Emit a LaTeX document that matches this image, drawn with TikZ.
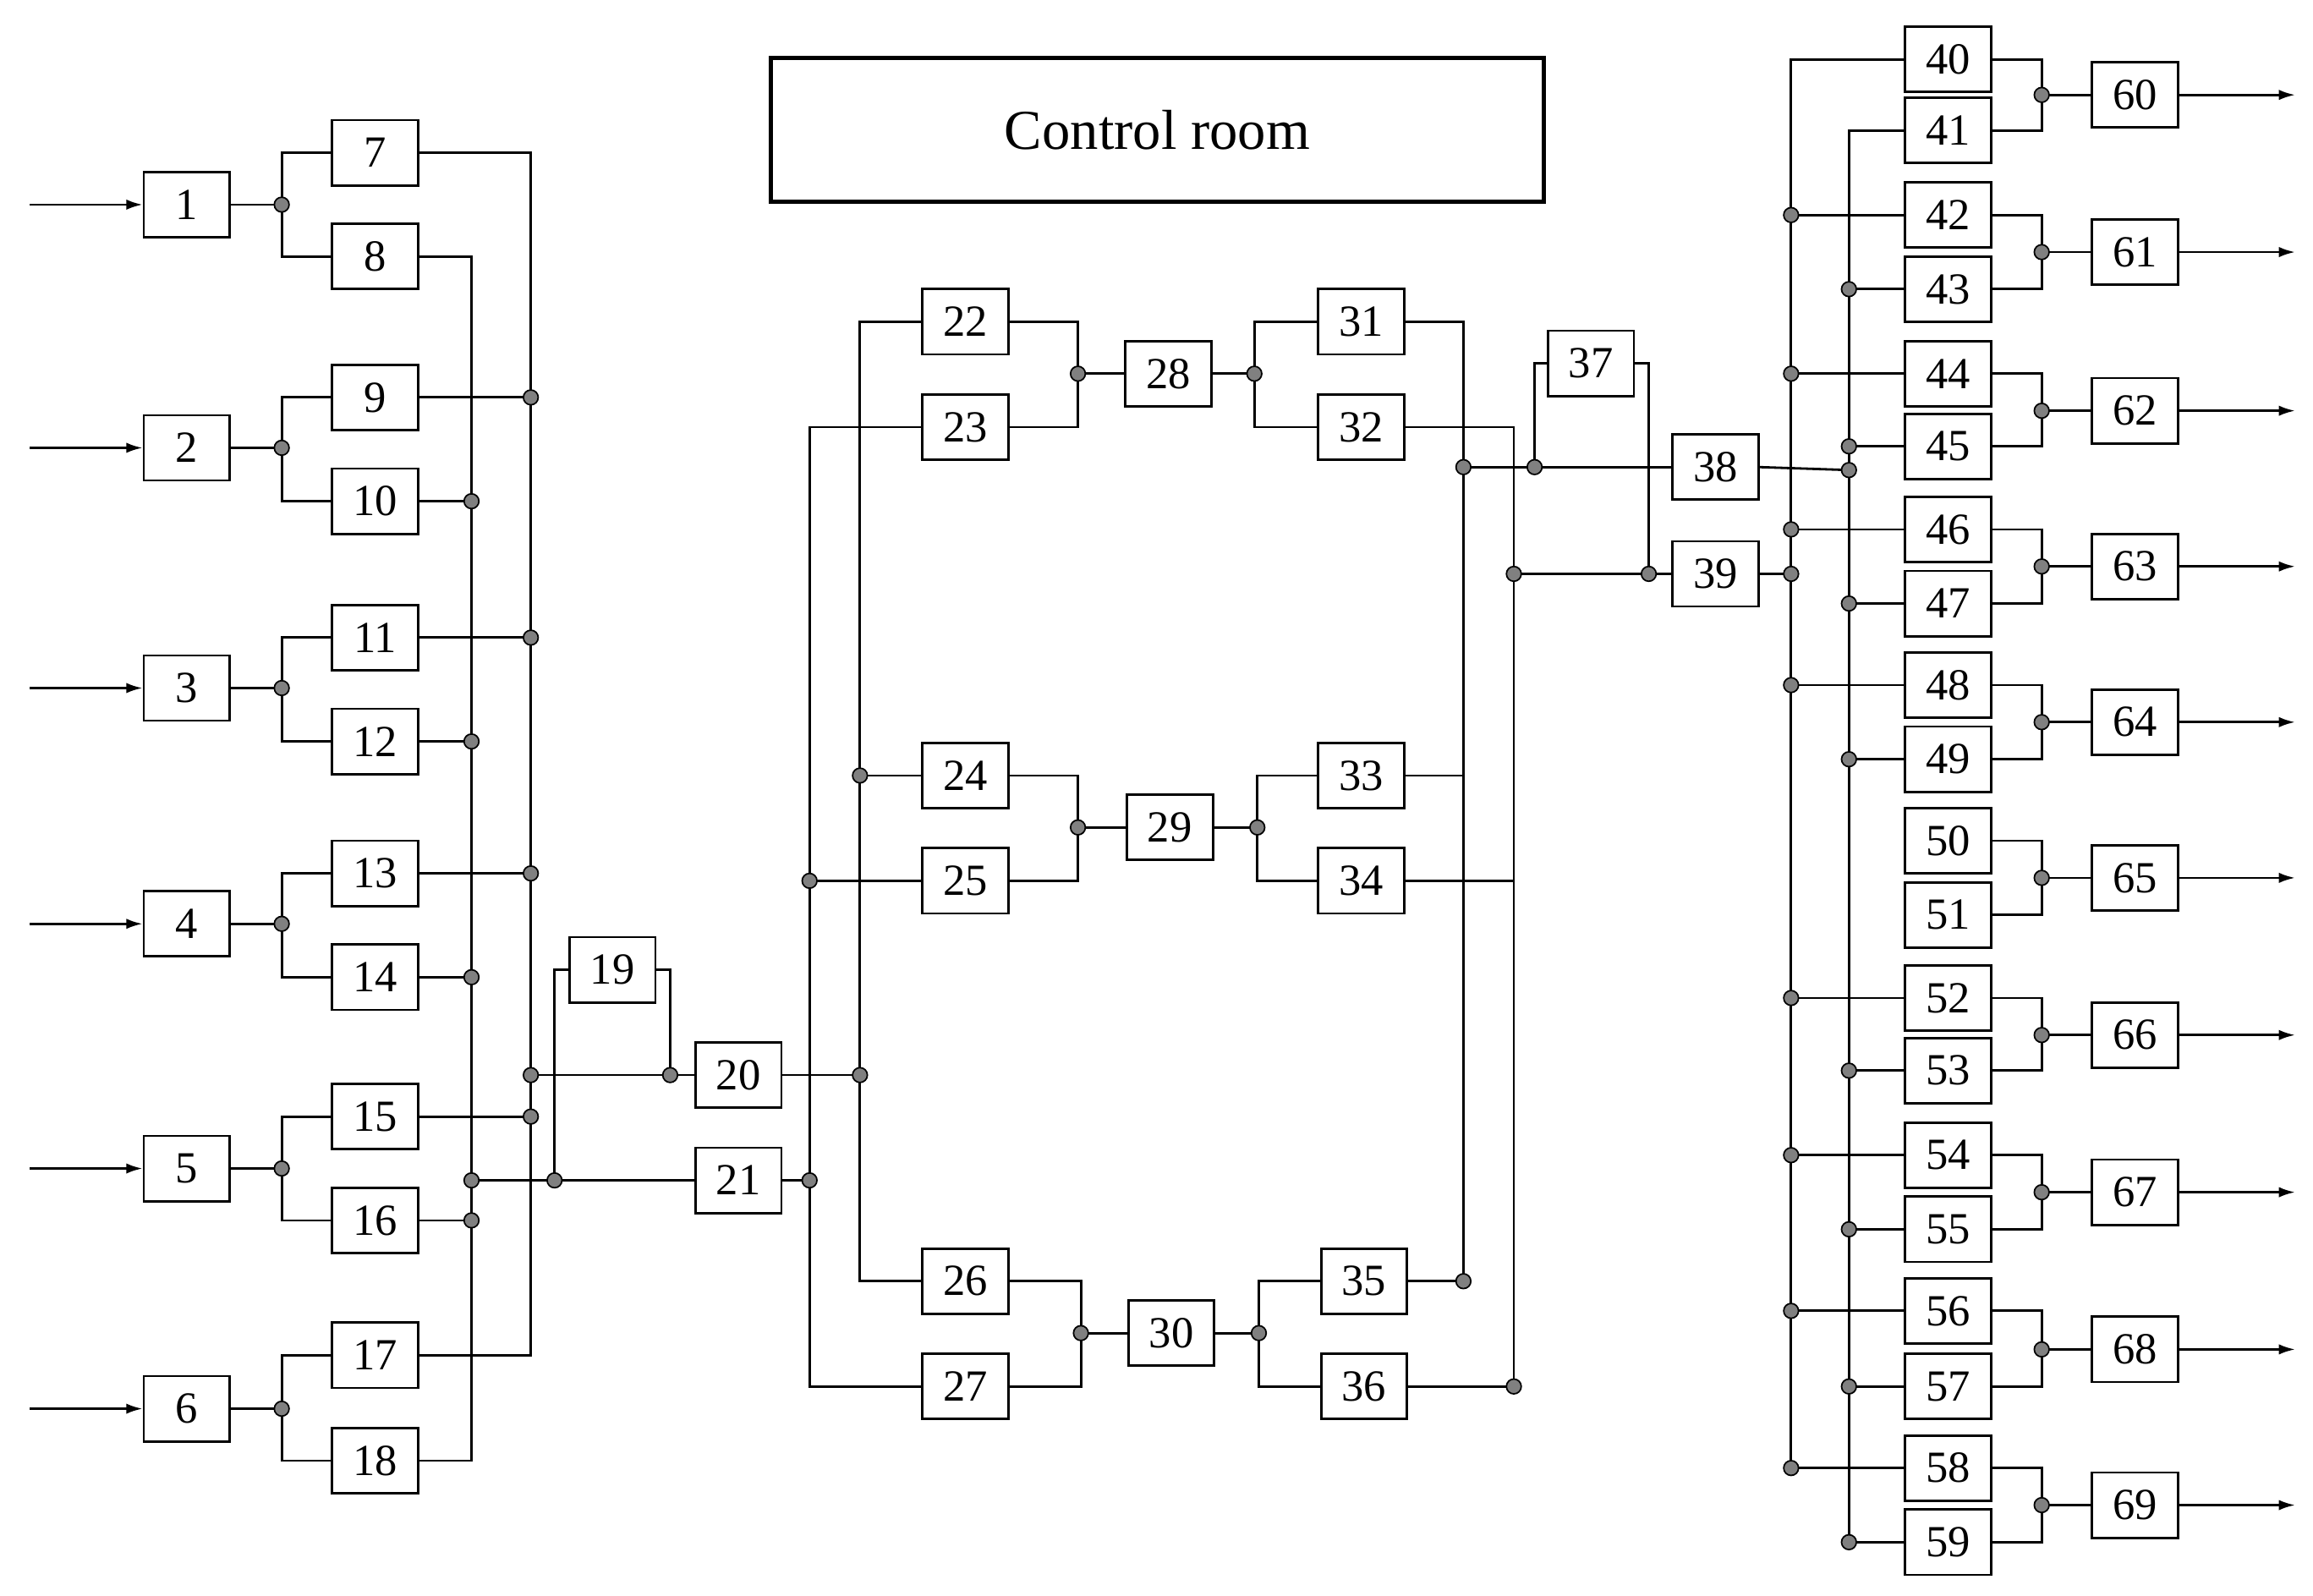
\documentclass[tikz,border=0pt]{standalone}
\usepackage{fontspec}
\setmainfont{Liberation Serif}
\usetikzlibrary{arrows.meta}
\begin{document}
\begin{tikzpicture}[x=1pt,y=-1pt,
  box/.style={draw,line width=1.6pt,minimum width=58pt,minimum height=44pt,inner sep=0pt,font=\fontsize{30}{30}\selectfont},
  dot/.style={circle,draw,fill=gray,line width=1pt,minimum size=10pt,inner sep=0pt},
  ln/.style={line width=1.6pt},
  arr/.style={line width=1.6pt,-{Latex[length=11pt,width=7pt]}}]
\useasboundingbox (0,0) rectangle (1560,1076);
% control room
\node[draw,line width=2.8pt,minimum width=521pt,minimum height=97pt,font=\fontsize{38}{38}\selectfont] (cr) at (780.5,87.5) {Control room};
% left input groups
\foreach \i/\y/\u/\ua/\l/\la in {1/138/7/103/8/173,2/302/9/268/10/338,3/464/11/430/12/500,4/623/13/589/14/659,5/788/15/753/16/823,6/950/17/914/18/985}{
  \node[box] (b\i) at (126,\y) {\i};
  \coordinate (in\i) at (20,\y);
  \coordinate (s\i) at (190,\y);
  \node[box] (b\u) at (253,\ua) {\u};
  \node[box] (b\l) at (253,\la) {\l};
  \draw[arr] (in\i) -- (b\i.west);
  \draw[ln] (b\i.east) -- (s\i);
  \draw[ln] (b\u.west) -| (s\i) |- (b\l.west);
}
% buses A (358) and B (318)
\coordinate (A17) at (358,914);
\coordinate (B18) at (318,985);
\draw[ln] (b7.east) -| (A17) -- (b17.east);
\draw[ln] (b8.east) -| (B18) -- (b18.east);
\foreach \k/\y in {9/268,11/430,13/589,15/753}{\coordinate (A\k) at (358,\y); \draw[ln] (b\k.east) -- (A\k);}
\foreach \k/\y in {10/338,12/500,14/659,16/823}{\coordinate (B\k) at (318,\y); \draw[ln] (b\k.east) -- (B\k);}
\coordinate (A20) at (358,725);
\coordinate (B21) at (318,796);
% 19,20,21
\node[box] (b19) at (413,654) {19};
\node[box] (b20) at (498,725) {20};
\node[box] (b21) at (498,796) {21};
\coordinate (j20) at (452,725);
\coordinate (j21) at (374,796);
\draw[ln] (A20) -- (b20.west);
\draw[ln] (B21) -- (b21.west);
\draw[ln] (b19.west) -| (j21);
\draw[ln] (b19.east) -| (j20);
% middle
\coordinate (C20) at (580,725);
\coordinate (D21) at (546,796);
\draw[ln] (b20.east) -- (C20);
\draw[ln] (b21.east) -- (D21);
\foreach \i/\y in {22/217,23/288,24/523,25/594,26/864,27/935}{\node[box] (b\i) at (651,\y) {\i};}
\draw[ln] (b22.west) -| (580,864) -- (b26.west);
\draw[ln] (b23.west) -| (546,935) -- (b27.west);
\coordinate (C24) at (580,523); \draw[ln] (C24) -- (b24.west);
\coordinate (D25) at (546,594); \draw[ln] (D25) -- (b25.west);
\foreach \m/\a/\b/\y/\p/\q/\mx/\bx/\nx/\rx in {28/22/23/252/31/32/727/788/846/918,29/24/25/558/33/34/727/789/848/920,30/26/27/899/35/36/729/790/849/920}{
  \coordinate (m\m) at (\mx,\y);
  \coordinate (n\m) at (\nx,\y);
  \node[box] (b\m) at (\bx,\y) {\m};
  \draw[ln] (b\a.east) -| (m\m) |- (b\b.east);
  \draw[ln] (m\m) -- (b\m.west);
  \draw[ln] (b\m.east) -- (n\m);
}
\foreach \i/\y in {31/217,32/288,33/523,34/594}{\node[box] (b\i) at (918,\y) {\i};}
\node[box] (b35) at (920,864) {35};
\node[box] (b36) at (920,935) {36};
\draw[ln] (b31.west) -| (n28) |- (b32.west);
\draw[ln] (b33.west) -| (n29) |- (b34.west);
\draw[ln] (b35.west) -| (n30) |- (b36.west);
% buses E (987) and F (1021)
\coordinate (E35) at (987,864);
\coordinate (F36) at (1021,935);
\draw[ln] (b31.east) -| (E35) -- (b35.east);
\draw[ln] (b32.east) -| (F36) -- (b36.east);
\draw[ln] (b33.east) -- (987,523);
\draw[ln] (b34.east) -- (1021,594);
\coordinate (E38) at (987,315);
\coordinate (F39) at (1021,387);
% 37,38,39
\node[box] (b37) at (1073,245) {37};
\node[box] (b38) at (1157,315) {38};
\node[box] (b39) at (1157,387) {39};
\coordinate (j38) at (1035,315);
\coordinate (j39) at (1112,387);
\draw[ln] (E38) -- (b38.west);
\draw[ln] (F39) -- (b39.west);
\draw[ln] (b37.west) -| (j38);
\draw[ln] (b37.east) -| (j39);
% right buses G (1208), H (1247)
\coordinate (G39) at (1208,387);
\coordinate (H38) at (1247,317);
\draw[ln] (b39.east) -- (G39);
\draw[ln] (b38.east) -- (H38);
\foreach \i/\y in {40/40,41/88,42/145,43/195,44/252,45/301,46/357,47/407,48/462,49/512,50/567,51/617,52/673,53/722,54/779,55/829,56/884,57/935,58/990,59/1040}{\node[box] (b\i) at (1314,\y) {\i};}
\draw[ln] (b40.west) -| (1208,990) -- (b58.west);
\draw[ln] (b41.west) -| (1247,1040) -- (b59.west);
\foreach \k/\y in {42/145,44/252,46/357,48/462,52/673,54/779,56/884,58/990}{\coordinate (G\k) at (1208,\y); \draw[ln] (G\k) -- (b\k.west);}
\foreach \k/\y in {43/195,45/301,47/407,49/512,53/722,55/829,57/935,59/1040}{\coordinate (H\k) at (1247,\y); \draw[ln] (H\k) -- (b\k.west);}
% output group
\foreach \o/\a/\b/\y in {60/40/41/64,61/42/43/170,62/44/45/277,63/46/47/382,64/48/49/487,65/50/51/592,66/52/53/698,67/54/55/804,68/56/57/910,69/58/59/1015}{
  \coordinate (r\o) at (1377,\y);
  \coordinate (out\o) at (1548,\y);
  \node[box] (b\o) at (1440,\y) {\o};
  \draw[ln] (b\a.east) -| (r\o) |- (b\b.east);
  \draw[ln] (r\o) -- (b\o.west);
  \draw[arr] (b\o.east) -- (out\o);
  \node[dot] at (r\o) {};
}
% dots
\foreach \c in {s1,s2,s3,s4,s5,s6,A9,A11,A13,A15,A20,B10,B12,B14,B16,B21,j20,j21,C20,D21,C24,D25,m28,m29,m30,n28,n29,n30,E35,F36,E38,F39,j38,j39,G39,H38,G42,G44,G46,G48,G52,G54,G56,G58,H43,H45,H47,H49,H53,H55,H57,H59}{\node[dot] at (\c) {};}
\end{tikzpicture}
\end{document}
